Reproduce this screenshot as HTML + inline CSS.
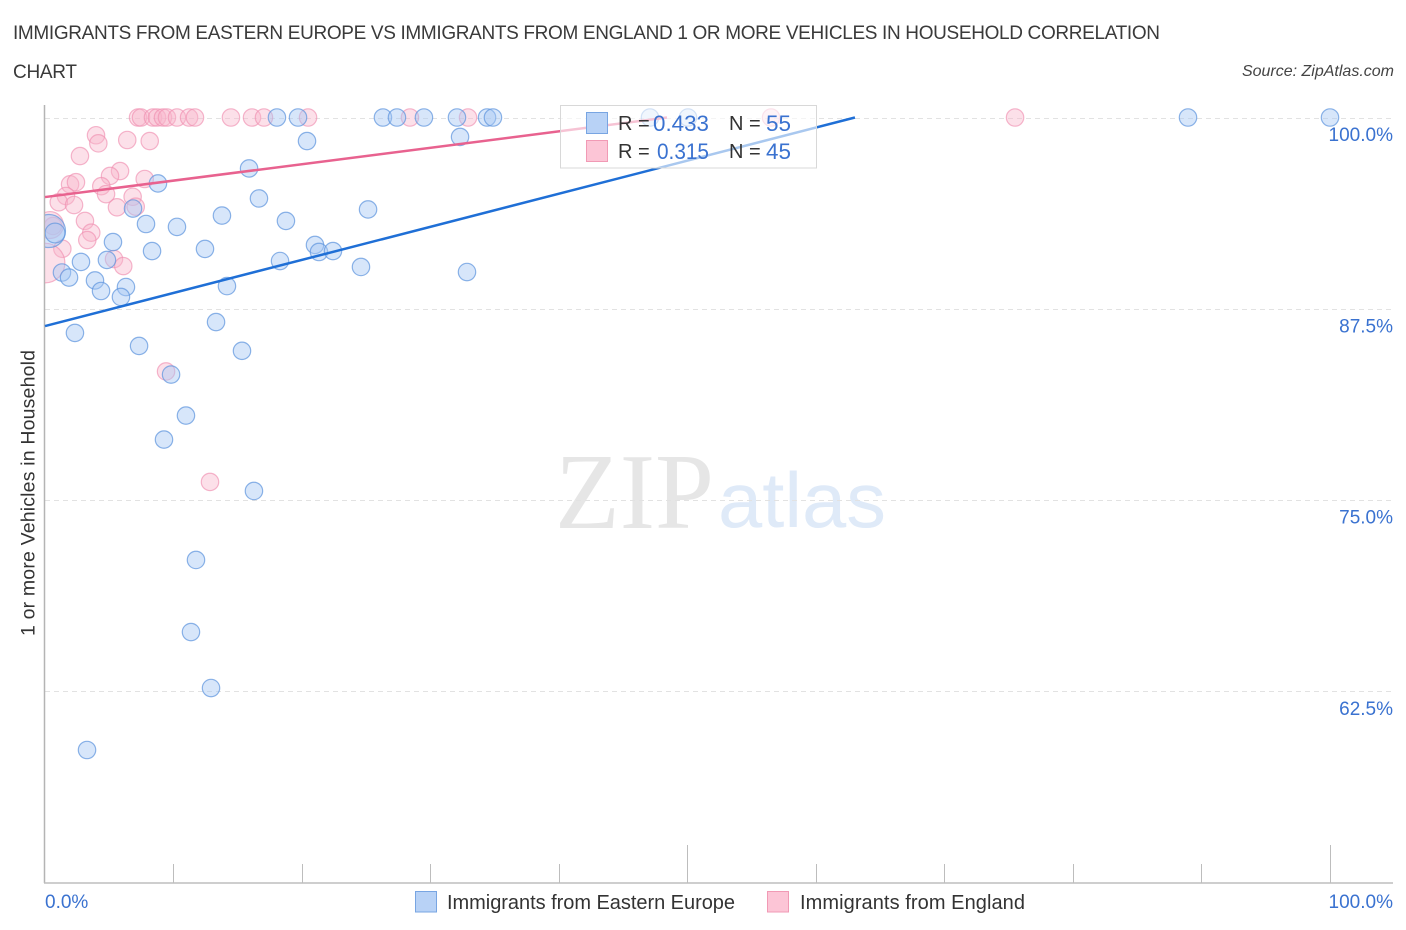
<!DOCTYPE html>
<html lang="en">
<head>
<meta charset="utf-8">
<title>Immigrants from Eastern Europe vs Immigrants from England correlation chart</title>
<style>
html,body{margin:0;padding:0;background:#fff;width:1406px;height:930px;overflow:hidden}
svg{display:block;font-family:"Liberation Sans",sans-serif}
</style>
</head>
<body>
<svg id="chart" xmlns="http://www.w3.org/2000/svg" width="1406" height="930" viewBox="0 0 1406 930">
  <defs>
    <clipPath id="plot-clip"><rect x="45" y="90" width="1361" height="793"></rect></clipPath>
  </defs>
  <rect width="1406" height="930" fill="#fff"></rect>
  <text x="13" y="39" font-size="19" fill="#3a3a3a" textLength="1147" lengthAdjust="spacing">IMMIGRANTS FROM EASTERN EUROPE VS IMMIGRANTS FROM ENGLAND 1 OR MORE VEHICLES IN HOUSEHOLD CORRELATION</text>
  <text x="13" y="78" font-size="19" fill="#3a3a3a" textLength="64" lengthAdjust="spacing">CHART</text>
  <text x="1394" y="76" font-size="16" font-style="italic" fill="#444" text-anchor="end">Source: ZipAtlas.com</text>
  <g>
    <text x="555" y="528" font-family="'Liberation Serif',serif" font-size="108" fill="#e6e6e6" textLength="159" lengthAdjust="spacingAndGlyphs">ZIP</text>
    <text x="718" y="527" font-family="'Liberation Sans',sans-serif" font-size="78" fill="#dfeaf8" textLength="168" lengthAdjust="spacingAndGlyphs">atlas</text>
  </g>
  <g id="grid"></g>
  <g id="axes"></g>
  <g id="points" clip-path="url(#plot-clip)"></g>
  <g id="trends"></g>
  <text transform="translate(34.5,493) rotate(-90)" font-size="19.5" fill="#333" text-anchor="middle" textLength="286" lengthAdjust="spacing">1 or more Vehicles in Household</text>

  <g>
    <rect x="560.5" y="105.5" width="256" height="62.5" fill="#fff" fill-opacity="0.62" stroke="#d8d8d8"></rect>
    <rect x="586.5" y="112.5" width="21" height="21" fill="#b8d2f6" stroke="#78a5e2"></rect>
    <rect x="586.5" y="140.5" width="21" height="21" fill="#fcc5d6" stroke="#f19ab5"></rect>
    <g font-size="20" fill="#333">
      <text x="618" y="130">R =</text>
      <text x="729" y="130">N =</text>
      <text x="618" y="158">R =</text>
      <text x="729" y="158">N =</text>
    </g>
    <g font-size="22" fill="#3a72d0">
      <text x="653" y="131" textLength="56" lengthAdjust="spacingAndGlyphs">0.433</text>
      <text x="766" y="131" textLength="25" lengthAdjust="spacingAndGlyphs">55</text>
      <text x="657" y="159" textLength="52" lengthAdjust="spacingAndGlyphs">0.315</text>
      <text x="766" y="159" textLength="25" lengthAdjust="spacingAndGlyphs">45</text>
    </g>
  </g>

  <g>
    <g>
      <rect x="415.5" y="891.5" width="21" height="20.5" fill="#b8d2f6" stroke="#78a5e2"></rect>
      <text x="447" y="909" font-size="20" fill="#333" textLength="288" lengthAdjust="spacing">Immigrants from Eastern Europe</text>
    </g>
    <g>
      <rect x="767.5" y="891.5" width="21" height="20.5" fill="#fcc5d6" stroke="#f19ab5"></rect>
      <text x="800" y="909" font-size="20" fill="#333" textLength="225" lengthAdjust="spacing">Immigrants from England</text>
    </g>
  </g>
</svg>
<script>
// ---- chart data (percent units) ----
const yTickValues = [100, 87.5, 75, 62.5];
const yTickLabels = ["100.0%", "87.5%", "75.0%", "62.5%"];
const xTickValues = [0, 10, 20, 30, 40, 50, 60, 70, 80, 90, 100];
const xMajorTicks = [0, 50, 100];
const xEndValues = [0, 100];
const xEndLabels = ["0.0%", "100.0%"];

const easternEuropeX = [18.05,19.69,26.30,27.39,29.49,32.06,34.40,34.86,47.08,50.04,88.95,100,
  20.39,32.30,15.88,8.79,16.65,6.85,25.14,13.77,7.86,10.27,18.75,5.29,8.33,12.45,21.01,21.32,22.41,18.29,24.59,32.84,
  2.80,4.82,1.32,1.87,3.89,6.30,4.36,5.91,14.16,13.31,2.33,7.32,15.33,9.81,10.97,9.26,16.26,11.75,11.36,12.92,3.27,0.31,0.78];
const easternEuropeY = [100,100,100,100,100,100,100,100,100,100,100,100,
  98.46,98.73,96.67,95.69,94.71,94.05,93.99,93.59,93.04,92.85,93.24,91.86,91.27,91.41,91.67,91.21,91.27,90.62,90.23,89.90,
  90.56,90.69,89.87,89.54,89.35,88.92,88.66,88.27,88.98,86.63,85.92,85.07,84.75,83.20,80.52,78.95,75.59,71.08,66.37,62.71,58.66,92.58,92.45];
const easternEuropeWeight = [1,1,1,1,1,1,1,1,1,1,1,1,
  1,1,1,1,1,1,1,1,1,1,1,1,1,1,1,1,1,1,1,1,
  1,1,1,1,1,1,1,1,1,1,1,1,1,1,1,1,1,1,1,1,1,3.6,1.3];

const englandX = [7.24,7.47,8.40,8.72,9.18,9.49,10.27,11.21,11.67,14.47,16.11,17.04,20.47,28.40,32.92,56.50,75.49,
  3.97,4.15,6.40,8.15,2.72,5.84,5.06,7.76,1.95,2.41,4.38,4.75,6.82,1.63,1.07,2.26,5.60,7.06,3.11,3.60,3.29,1.35,5.37,6.09,9.42,12.84,0,0.62,0.39];
const englandY = [100,100,100,100,100,100,100,100,100,100,100,100,100,100,100,100,100,
  98.84,98.31,98.53,98.46,97.48,96.50,96.18,95.98,95.63,95.77,95.51,94.99,94.82,94.87,94.46,94.28,94.13,94.17,93.24,92.47,91.99,91.42,90.75,90.29,83.40,76.18,90.49,92.91,92.97];
const englandWeight = [1,1,1,1,1,1,1,1,1,1,1,1,1,1,1,1,1,
  1,1,1,1,1,1,1,1,1,1,1,1,1,1,1,1,1,1,1,1,1,1,1,1,1,1,5.2,1,2.4];

const easternEuropeTrendX = [0, 63.03];
const easternEuropeTrendY = [86.37, 100];
const englandTrendX = [0, 48.4];
const englandTrendY = [94.8, 100];

// ---- axis functions ----
const NS = "http://www.w3.org/2000/svg";
const xScale = v => 45 + v * 12.85;
const yScale = v => 117.5 + (100 - v) * 15.3;
const radius = w => 8.7 * Math.sqrt(w);

function make(tag, parent, attrs, text) {
  const el = document.createElementNS(NS, tag);
  for (const k in attrs) el.setAttribute(k, attrs[k]);
  if (text !== undefined) el.textContent = text;
  parent.appendChild(el);
  return el;
}

const grid = document.getElementById("grid");
const axes = document.getElementById("axes");
const points = document.getElementById("points");
const trends = document.getElementById("trends");

// gridlines and y tick labels
yTickValues.forEach((v, i) => {
  const y = Math.round(yScale(v)) + 0.5;
  const line = make("line", grid, {x1: 45, x2: 1393, y1: y, y2: y, stroke: "#e2e2e2", "stroke-width": 1, "stroke-dasharray": "5 4"});
  
  
  const label = make("text", axes, {x: 1393, y: yScale(v) + 23.5, "font-size": 19, fill: "#3a72d0", "text-anchor": "end"}, yTickLabels[i]);
  
  
});

// axis lines
const yAxisLine = make("line", axes, {x1: 44.5, x2: 44.5, y1: 105, y2: 883, stroke: "#b4b4b4", "stroke-width": 1.5});


const xAxisLine = make("line", axes, {x1: 44, x2: 1393, y1: 883, y2: 883, stroke: "#bdbdbd", "stroke-width": 1.5});



// x ticks
xTickValues.forEach(v => {
  if (v === 0) return;
  const x = Math.floor(xScale(v)) + 0.5;
  const top = xMajorTicks.includes(v) ? 845 : 864;
  const tick = make("line", axes, {x1: x, x2: x, y1: top, y2: 883, stroke: "#bdbdbd", "stroke-width": 1});
  
  
});

// x end labels
xEndValues.forEach((v, i) => {
  const anchor = v === 0 ? "start" : "end";
  const px = v === 0 ? xScale(v) : xScale(v) + 63;
  const label = make("text", axes, {x: px, y: 908, "font-size": 19, fill: "#3a72d0", "text-anchor": anchor}, xEndLabels[i]);
  
  
});

// points
englandX.forEach((v, i) => {
  const dot = make("circle", points, {cx: xScale(v), cy: yScale(englandY[i]), r: radius(englandWeight[i]), fill: "#f9b4ca", "fill-opacity": 0.42, stroke: "#f08fb0", "stroke-opacity": 0.65, "stroke-width": 1.2});
  
  
});
easternEuropeX.forEach((v, i) => {
  const dot = make("circle", points, {cx: xScale(v), cy: yScale(easternEuropeY[i]), r: radius(easternEuropeWeight[i]), fill: "#a6c8f3", "fill-opacity": 0.45, stroke: "#5f95de", "stroke-opacity": 0.72, "stroke-width": 1.2});
  
  
});

// trend lines
const englandTrend = make("line", trends, {x1: xScale(englandTrendX[0]), y1: yScale(englandTrendY[0]), x2: xScale(englandTrendX[1]), y2: yScale(englandTrendY[1]), stroke: "#e8628f", "stroke-width": 2.5});


const easternTrend = make("line", trends, {x1: xScale(easternEuropeTrendX[0]), y1: yScale(easternEuropeTrendY[0]), x2: xScale(easternEuropeTrendX[1]), y2: yScale(easternEuropeTrendY[1]), stroke: "#1f6fd6", "stroke-width": 2.5});


</script>
</body>
</html>
